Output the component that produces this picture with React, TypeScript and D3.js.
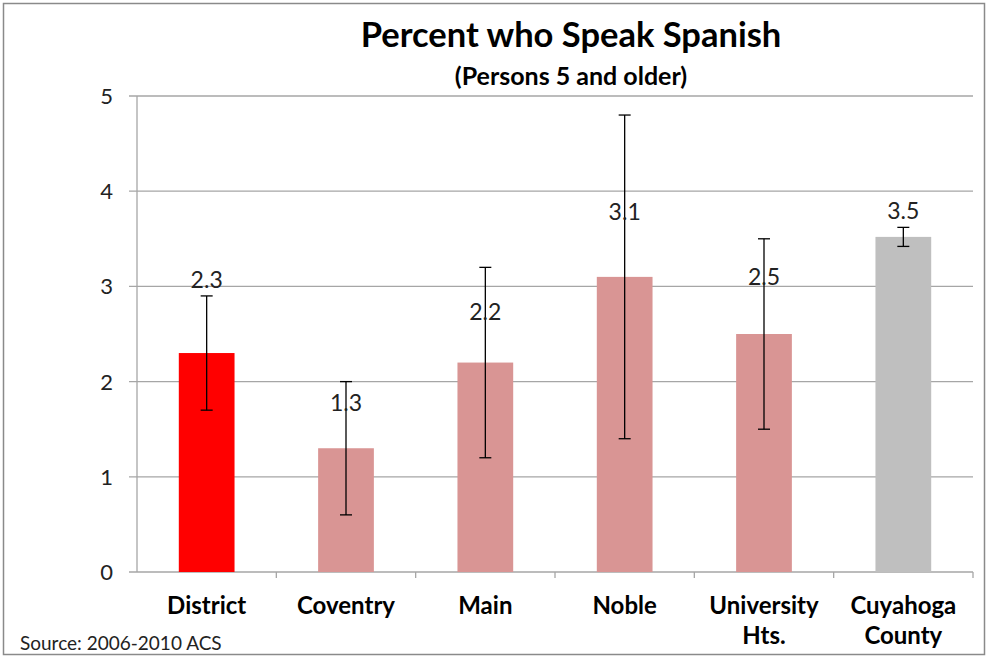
import React from "react";
import * as d3 from "d3";

const categories = ["District", "Coventry", "Main", "Noble", "University Hts.", "Cuyahoga County"];
const values = [2.3, 1.3, 2.2, 3.1, 2.5, 3.52];
const errLow = [1.7, 0.6, 1.2, 1.4, 1.5, 3.42];
const errHigh = [2.9, 2.0, 3.2, 4.8, 3.5, 3.62];
const valueLabels = ["2.3", "1.3", "2.2", "3.1", "2.5", "3.5"];
const labelAt = [3.07, 1.78, 2.73, 3.78, 3.1, 3.79];
const colors = ["#ff0000", "#d99594", "#d99594", "#d99594", "#d99594", "#bfbfbf"];
const yTicks = [0, 1, 2, 3, 4, 5];
const catLines = [["District"], ["Coventry"], ["Main"], ["Noble"], ["University", "Hts."], ["Cuyahoga", "County"]];

const W = 990;
const H = 663;
const font = "Lato, 'Open Sans', sans-serif";

export default function App() {
  const x = d3.scaleBand<string>().domain(categories).range([137, 973]).paddingInner(0.6).paddingOuter(0.3);
  const y = d3.scaleLinear().domain([0, 5]).range([572, 96]);
  const step = x.step();

  return (
    <svg width={W} height={H} style={{ position: "absolute", left: 0, top: 0, background: "#fff" }}>
      <rect x={3.5} y={3.5} width={981} height={651} fill="#fff" stroke="#8a8a8a" strokeWidth={1.5} />
      <text x={571} y={47} textAnchor="middle" fontFamily={font} fontWeight="bold" fontSize={34.5} fill="#000">
        Percent who Speak Spanish
      </text>
      <text x={571} y={85} textAnchor="middle" fontFamily={font} fontWeight="bold" fontSize={25} fill="#000">
        (Persons 5 and older)
      </text>

      {yTicks.map((t) => (
        <g key={t}>
          <line x1={129} x2={973} y1={y(t)} y2={y(t)} stroke="#a6a6a6" strokeWidth={1.3} />
          <text x={113} y={y(t) + 8} textAnchor="end" fontFamily={font} fontSize={22} fill="#222">
            {t}
          </text>
        </g>
      ))}
      <line x1={137} x2={137} y1={96} y2={572} stroke="#a6a6a6" strokeWidth={1.3} />
      {categories.map((c, i) => (
        <line key={c} x1={137 + step * (i + 1)} x2={137 + step * (i + 1)} y1={572} y2={578} stroke="#a6a6a6" strokeWidth={1.3} />
      ))}

      {categories.map((c, i) => {
        const cx = (x(c) as number) + x.bandwidth() / 2;
        return (
          <g key={c}>
            <rect x={x(c)} y={y(values[i])} width={x.bandwidth()} height={y(0) - y(values[i])} fill={colors[i]} />
            <line x1={cx} x2={cx} y1={y(errHigh[i])} y2={y(errLow[i])} stroke="#000" strokeWidth={1.3} />
            <line x1={cx - 6} x2={cx + 6} y1={y(errHigh[i])} y2={y(errHigh[i])} stroke="#000" strokeWidth={1.3} />
            <line x1={cx - 6} x2={cx + 6} y1={y(errLow[i])} y2={y(errLow[i])} stroke="#000" strokeWidth={1.3} />
            <text x={cx} y={y(labelAt[i]) + 8} textAnchor="middle" fontFamily={font} fontSize={23} fill="#222">
              {valueLabels[i]}
            </text>
            {catLines[i].map((ln, k) => (
              <text key={k} x={cx} y={614 + k * 30} textAnchor="middle" fontFamily={font} fontWeight="bold" fontSize={24} fill="#000">
                {ln}
              </text>
            ))}
          </g>
        );
      })}

      <text x={20} y={650} fontFamily={font} fontSize={19} fill="#222">
        Source: 2006-2010 ACS
      </text>
    </svg>
  );
}
